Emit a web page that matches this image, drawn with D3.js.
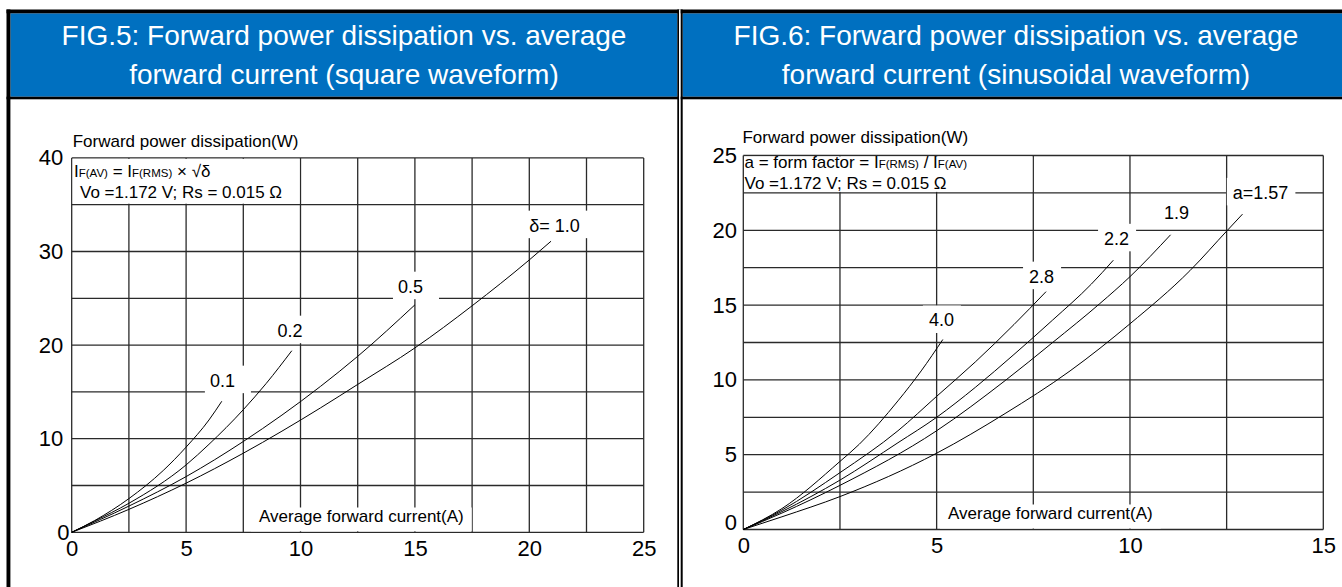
<!DOCTYPE html>
<html>
<head>
<meta charset="utf-8">
<script src="https://cdn.jsdelivr.net/npm/d3@7"></script>
<style>
  html, body { margin: 0; padding: 0; background: #fff; }
  svg { display: block; font-family: "Liberation Sans", Arial, sans-serif; }
</style>
</head>
<body>
<svg id="chart" width="1342" height="587"></svg>
<script>
// ---------- FIG.5 : square waveform ----------
const fig5Title = ["FIG.5: Forward power dissipation vs. average", "forward current (square waveform)"];
const sqXTicks = [0, 5, 10, 15, 20, 25];
const sqYTicks = [0, 10, 20, 30, 40];
const sqLabels = ["0.1", "0.2", "0.5", "δ= 1.0"];
// [current A, power W]
const sqDuty01 = [[0, 0], [1, 1.25], [2.5, 3.6], [4, 6.6], [5, 9.1], [6, 12.0], [6.56, 14.0]];
const sqDuty02 = [[0, 0], [1, 1.2], [2.5, 3.1], [5, 7.2], [6, 9.4], [7.5, 13.1], [8.5, 15.9], [9.62, 19.4]];
const sqDuty05 = [[0, 0], [2.5, 2.8], [5, 5.95], [7.5, 9.7], [10.88, 15.6], [12.5, 18.8], [15, 24.3]];
const sqDuty10 = [[0, 0], [2.5, 2.45], [5, 5.25], [7.5, 8.45], [10.88, 13.3], [12.5, 15.8], [15, 19.7], [17.5, 24.2], [20, 29.1], [20.95, 31.1]];
const sqLabelAt = [[6.04, 15.56], [9.0, 20.9], [14.26, 25.6], [20.0, 32.12]];
const sqNote1 = [["I", 0], ["F(AV)", 1], [" = I", 0], ["F(RMS)", 1], [" × √δ", 0]];
const sqNote2 = "Vo =1.172 V; Rs = 0.015 Ω";

// ---------- FIG.6 : sinusoidal waveform ----------
const fig6Title = ["FIG.6: Forward power dissipation vs. average", "forward current (sinusoidal waveform)"];
const sinXTicks = [0, 5, 10, 15];
const sinYTicks = [0, 5, 10, 15, 20, 25];
const sinLabels = ["4.0", "2.8", "2.2", "1.9", "a=1.57"];
const sinA40 = [[0, 0], [1, 1.4], [2.5, 4.55], [3, 5.7], [4, 8.6], [4.6, 10.6], [5.16, 12.7]];
const sinA28 = [[0, 0], [1, 1.3], [2.5, 3.8], [4, 6.6], [5, 8.9], [6, 11.2], [7, 13.7], [7.83, 15.9]];
const sinA22 = [[0, 0], [1, 1.2], [2.5, 3.3], [4, 5.8], [5, 7.5], [6, 9.5], [7, 11.7], [8, 14.0], [9, 16.4], [9.57, 18.0]];
const sinA19 = [[0, 0], [1, 1.1], [2.5, 2.95], [5, 6.6], [6.77, 9.95], [8, 12.5], [9.22, 15.1], [10, 16.9], [11.05, 19.7]];
const sinA157 = [[0, 0], [1, 0.85], [2.5, 2.2], [5, 5.1], [6.77, 7.75], [8.45, 10.6], [10, 13.75], [11.55, 17.3], [12.52, 20.0], [12.91, 21.08]];
const sinLabelAt = [[4.80, 13.57], [7.39, 16.5], [9.33, 19.03], [10.88, 20.77], [12.66, 22.1]];
const sinNote1 = [["a = form factor = I", 0], ["F(RMS)", 1], [" / I", 0], ["F(AV)", 1]];
const sinNote2 = "Vo =1.172 V; Rs = 0.015 Ω";

const yTitle = "Forward power dissipation(W)";
const xTitle = "Average forward current(A)";

const svg = d3.select("#chart");
const BLUE = "#0070c0";

// ---------- frame + headers ----------
function drawHeader(x0, x1, cx, lines) {
  svg.append("rect").attr("x", x0).attr("y", 13.3).attr("width", x1 - x0).attr("height", 83.4).attr("fill", BLUE);
  svg.append("g").selectAll("text").data(lines).join("text")
    .attr("x", cx)
    .attr("y", (d, i) => i === 0 ? 44.5 : 84)
    .attr("text-anchor", "middle")
    .attr("font-size", 28)
    .attr("fill", "#fff")
    .text(d => d);
}
drawHeader(10.4, 677.3, 344, fig5Title);
drawHeader(682.7, 1342, 1016, fig6Title);

svg.append("rect").attr("x", 6.5).attr("y", 9.5).attr("width", 1336).attr("height", 3.8).attr("fill", "#000");
svg.append("rect").attr("x", 6.5).attr("y", 96.7).attr("width", 1336).attr("height", 2.6).attr("fill", "#000");
svg.append("rect").attr("x", 6.5).attr("y", 9.5).attr("width", 3.9).attr("height", 578).attr("fill", "#000");
svg.append("rect").attr("x", 677.3).attr("y", 9.5).attr("width", 1.7).attr("height", 578).attr("fill", "#000");
svg.append("rect").attr("x", 679).attr("y", 9.5).attr("width", 1.7).attr("height", 578).attr("fill", "#fff");
svg.append("rect").attr("x", 680.7).attr("y", 9.5).attr("width", 2).attr("height", 578).attr("fill", "#000");

// ---------- one chart panel ----------
function drawPanel(p) {
  const x = d3.scaleLinear().domain([0, p.xMax]).range([p.left, p.right]);
  const y = d3.scaleLinear().domain([0, p.yMax]).range([p.bottom, p.top]);
  const g = svg.append("g");

  const gridX = d3.range(0, p.xMax + 0.001, p.xGrid);
  const gridY = d3.range(0, p.yMax + 0.001, p.yGrid);
  const grid = g.append("g").attr("stroke", "#2a2a2a").attr("stroke-width", 1.3);
  grid.selectAll("line.v").data(gridX).join("line").attr("class", "v")
    .attr("x1", d => x(d)).attr("x2", d => x(d))
    .attr("y1", y(0)).attr("y2", y(p.yMax));
  grid.selectAll("line.h").data(gridY).join("line").attr("class", "h")
    .attr("x1", x(0)).attr("x2", x(p.xMax))
    .attr("y1", d => y(d)).attr("y2", d => y(d));

  // layer of white boxes, above the grid
  const boxes = g.append("g").attr("fill", "#fff");

  // white note box in the top-left cells
  boxes.append("rect")
    .attr("x", x(0) + 1).attr("y", y(p.yMax) + 1)
    .attr("width", x(p.noteX) - x(0) - 2).attr("height", y(p.noteY) - y(p.yMax) - 2);

  // x axis title with its white backing
  const xt = g.append("text").attr("x", p.xTitle[0]).attr("y", p.xTitle[1])
    .attr("font-size", 17).text(xTitle);
  const xb = xt.node().getBBox();
  boxes.append("rect")
    .attr("x", xb.x - 8).attr("y", xb.y + 1)
    .attr("width", xb.width + 16).attr("height", y(0) - xb.y - 2);

  // curve labels with white boxes
  const labels = g.append("g").selectAll("text").data(p.labels).join("text")
    .attr("x", (d, i) => x(p.labelAt[i][0]))
    .attr("y", (d, i) => y(p.labelAt[i][1]))
    .attr("font-size", 18)
    .text(d => d);
  labels.each(function () {
    const b = this.getBBox();
    boxes.append("rect")
      .attr("x", b.x - p.padL).attr("y", b.y - 5)
      .attr("width", b.width + p.padL + p.padR).attr("height", b.height + 7.5);
  });

  // curves
  const line = d3.line().x(d => x(d[0])).y(d => y(d[1])).curve(d3.curveMonotoneX);
  g.append("g").selectAll("path").data(p.series).join("path")
    .attr("d", line)
    .attr("fill", "none")
    .attr("stroke", "#000")
    .attr("stroke-width", 1);

  // note text
  const n1 = g.append("text").attr("x", p.note1[0]).attr("y", p.note1[1]).attr("font-size", 17);
  n1.selectAll("tspan").data(p.noteParts).join("tspan")
    .attr("font-size", d => d[1] ? 11.5 : 17)
    .style("white-space", "pre")
    .text(d => d[0]);
  g.append("text").attr("x", p.note2[0]).attr("y", p.note2[1]).attr("font-size", 17).text(p.noteLine2);

  // y axis title
  g.append("text").attr("x", p.yTitle[0]).attr("y", p.yTitle[1]).attr("font-size", 17).text(yTitle);

  // tick labels
  const ax = g.append("g").attr("transform", `translate(0,${y(0)})`)
    .call(d3.axisBottom(x).tickValues(p.xTicks).tickSize(0).tickPadding(8));
  const ay = g.append("g").attr("transform", `translate(${x(0)},0)`)
    .call(d3.axisLeft(y).tickValues(p.yTicks).tickSize(0).tickPadding(p.yPad));
  [ax, ay].forEach(a => {
    a.attr("font-family", null).attr("font-size", 22);
    a.select(".domain").remove();
    a.selectAll("text").attr("fill", "#000");
  });
  ay.selectAll(".tick").filter(d => d === 0).select("text")
    .attr("x", -p.yPad + p.zeroDx)
    .attr("dy", p.zeroDy);
}

drawPanel({
  xMax: 25, yMax: 40, xGrid: 2.5, yGrid: 5,
  left: 71.7, right: 643.7, top: 157.9, bottom: 532.3,
  noteX: 10, noteY: 35,
  xTicks: sqXTicks, yTicks: sqYTicks,
  series: [sqDuty01, sqDuty02, sqDuty05, sqDuty10],
  labels: sqLabels, labelAt: sqLabelAt, padL: 5, padR: 16,
  noteParts: sqNote1, noteLine2: sqNote2,
  note1: [74, 177.3], note2: [80, 197.7],
  yTitle: [72.7, 146.5], xTitle: [259, 521.5],
  yPad: 8.4, zeroDx: 6.1, zeroDy: "0.32em"
});

drawPanel({
  xMax: 15, yMax: 25, xGrid: 2.5, yGrid: 2.5,
  left: 743.3, right: 1323.3, top: 155.5, bottom: 529.5,
  noteX: 7.5, noteY: 22.5,
  xTicks: sinXTicks, yTicks: sinYTicks,
  series: [sinA40, sinA28, sinA22, sinA19, sinA157],
  labels: sinLabels, labelAt: sinLabelAt, padL: 6, padR: 7,
  noteParts: sinNote1, noteLine2: sinNote2,
  note1: [744.5, 168], note2: [744.5, 188.5],
  yTitle: [742.4, 143], xTitle: [948, 518.5],
  yPad: 6.3, zeroDx: 0, zeroDy: "0.02em"
});
</script>
</body>
</html>
